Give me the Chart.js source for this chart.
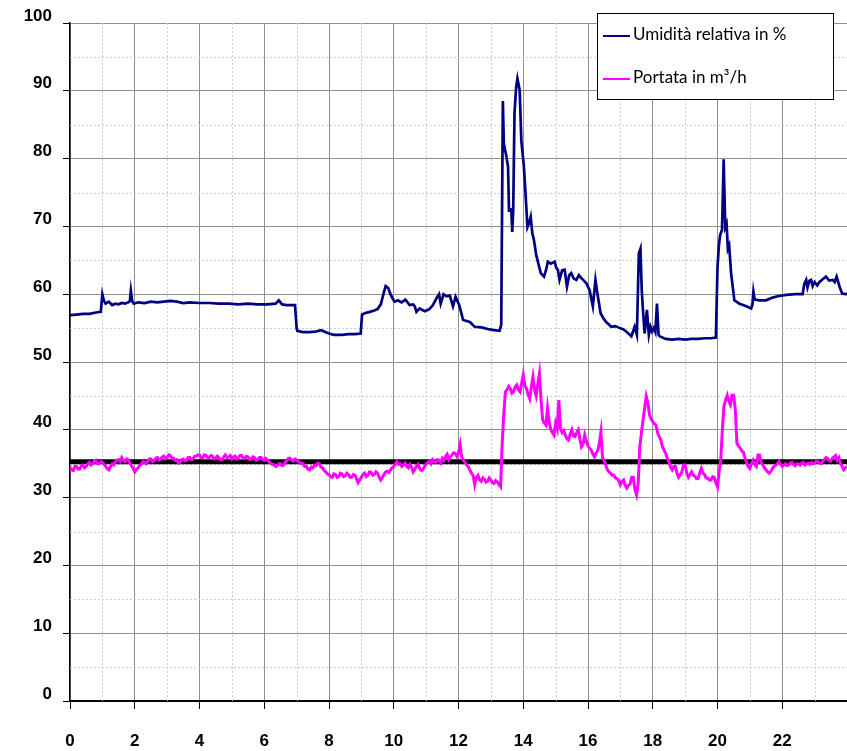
<!DOCTYPE html>
<html>
<head>
<meta charset="utf-8">
<script src="https://cdn.jsdelivr.net/npm/chart.js@4/dist/chart.umd.min.js"></script>
<style>
  html, body { margin: 0; padding: 0; background: #ffffff; }
  #wrap { width: 847px; height: 751px; position: relative; }
</style>
</head>
<body>
<div id="wrap"><canvas id="c" width="847" height="751"></canvas></div>
<script>
// Umidità relativa (%) — time in hours, value
const hoursUmidita = [
  0.0, 0.2, 0.4, 0.6, 0.8, 0.95, 1.0, 1.05, 1.1, 1.2, 1.3, 1.4, 1.5, 1.6, 1.7, 1.8, 1.85, 1.88, 1.92, 1.97,
  2.1, 2.3, 2.5, 2.7, 2.9, 3.1, 3.3, 3.5, 3.7, 4.0, 4.3, 4.6, 4.9, 5.2, 5.5, 5.8, 6.1, 6.35, 6.45, 6.55,
  6.7, 6.95, 7.0, 7.02, 7.2, 7.4, 7.6, 7.75, 7.85, 8.0, 8.15, 8.4, 8.6, 8.8, 8.98, 9.02, 9.1, 9.26, 9.4, 9.5,
  9.6, 9.68, 9.75, 9.83, 9.9, 9.96, 10.03, 10.13, 10.24, 10.36, 10.49, 10.6, 10.65, 10.7, 10.8, 10.96, 11.1, 11.21, 11.32, 11.4,
  11.45, 11.54, 11.63, 11.73, 11.83, 11.91, 12.02, 12.1, 12.14, 12.35, 12.5, 12.71, 12.96, 13.1, 13.27, 13.32, 13.37, 13.4, 13.48, 13.53,
  13.56, 13.63, 13.66, 13.69, 13.73, 13.78, 13.82, 13.89, 13.94, 14.02, 14.07, 14.13, 14.18, 14.23, 14.28, 14.33, 14.4, 14.54, 14.64, 14.7,
  14.76, 14.85, 14.97, 15.02, 15.07, 15.12, 15.2, 15.28, 15.35, 15.42, 15.48, 15.56, 15.64, 15.72, 15.79, 15.87, 15.95, 16.05, 16.15, 16.23,
  16.29, 16.39, 16.47, 16.56, 16.72, 16.85, 16.98, 17.1, 17.18, 17.34, 17.44, 17.51, 17.57, 17.62, 17.66, 17.7, 17.75, 17.82, 17.88, 17.93,
  17.98, 18.03, 18.08, 18.13, 18.18, 18.21, 18.4, 18.6, 18.8, 19.0, 19.2, 19.4, 19.6, 19.8, 19.95, 20.0, 20.04, 20.08, 20.14, 20.19,
  20.24, 20.28, 20.32, 20.36, 20.42, 20.52, 20.68, 20.85, 21.04, 21.08, 21.11, 21.15, 21.3, 21.5, 21.7, 21.86, 22.12, 22.4, 22.63, 22.68,
  22.74, 22.78, 22.84, 22.89, 22.94, 23.0, 23.08, 23.15, 23.25, 23.35, 23.45, 23.56, 23.62, 23.68, 23.77, 23.85, 23.97, 24.0
];
const umidita = [
  56.9, 57.0, 57.1, 57.1, 57.3, 57.4, 60.0, 59.0, 58.6, 58.9, 58.4, 58.6, 58.5, 58.7, 58.6, 58.8, 59.0, 60.5, 59.0, 58.6,
  58.8, 58.7, 58.9, 58.8, 58.9, 59.0, 58.9, 58.7, 58.8, 58.7, 58.7, 58.6, 58.6, 58.5, 58.6, 58.5, 58.5, 58.6, 59.1, 58.5,
  58.4, 58.4, 55.0, 54.6, 54.4, 54.4, 54.5, 54.7, 54.5, 54.2, 54.0, 54.0, 54.1, 54.1, 54.2, 57.0, 57.2, 57.4, 57.6, 57.8,
  58.5, 60.0, 61.2, 60.9, 60.0, 59.4, 58.9, 59.1, 58.8, 59.2, 58.4, 58.5, 58.2, 57.4, 57.9, 57.5, 57.8, 58.4, 59.4, 60.0,
  58.6, 60.0, 59.7, 59.8, 58.2, 59.6, 58.4, 57.0, 56.2, 55.9, 55.2, 55.1, 54.8, 54.7, 54.6, 55.5, 88.5, 82.2, 80.3, 78.8,
  72.4, 72.5, 69.2, 72.4, 86.7, 90.5, 91.8, 90.1, 82.7, 78.8, 74.9, 69.9, 70.5, 71.4, 69.0, 68.0, 65.8, 63.1, 62.6, 63.5,
  64.8, 64.5, 64.8, 63.9, 63.6, 62.1, 63.5, 63.6, 61.1, 62.8, 63.1, 62.3, 62.1, 62.8, 62.4, 62.0, 61.6, 60.6, 58.2, 62.1,
  60.1, 57.2, 56.5, 55.9, 55.2, 55.3, 55.0, 54.8, 54.5, 53.8, 55.2, 54.0, 66.0, 66.7, 60.6, 57.5, 54.2, 57.7, 54.0, 55.2,
  54.5, 55.0, 54.4, 58.6, 54.0, 53.8, 53.4, 53.3, 53.4, 53.3, 53.4, 53.4, 53.5, 53.5, 53.6, 64.0, 67.0, 68.7, 69.5, 79.9,
  69.9, 70.4, 66.7, 67.2, 63.1, 59.1, 58.6, 58.3, 57.9, 58.5, 60.4, 59.2, 59.1, 59.1, 59.5, 59.7, 59.9, 60.0, 60.0, 61.5,
  62.1, 61.0, 62.0, 62.1, 61.2, 61.8, 61.3, 61.8, 62.2, 62.6, 62.0, 62.1, 61.8, 62.6, 61.1, 60.1, 60.0, 60.0
];

// Portata (m³/h) — one reading every 0.05 h (20 per hour), from 0 to 24 h
const portata = [
  34.5, 34.1, 34.0, 34.6, 34.6, 34.2, 34.2, 34.7, 34.8, 34.4, 34.6, 35.0, 35.2, 34.8, 35.0, 35.4, 35.5, 35.0, 35.0, 35.3,
  35.2, 34.9, 34.6, 34.3, 34.1, 34.6, 35.0, 34.8, 35.3, 35.5, 35.6, 35.3, 35.9, 35.5, 35.3, 35.7, 35.6, 35.1, 34.7, 34.3,
  33.8, 34.2, 34.3, 34.8, 34.9, 35.3, 35.2, 35.0, 35.4, 35.7, 35.7, 35.3, 35.4, 35.8, 35.9, 35.5, 35.7, 36.0, 36.1, 35.7,
  35.9, 36.3, 36.2, 35.8, 35.8, 35.5, 35.6, 35.1, 35.2, 35.6, 35.7, 35.4, 35.5, 35.9, 35.9, 35.6, 35.7, 36.1, 36.1, 36.3,
  36.3, 35.9, 35.9, 36.3, 36.2, 35.8, 35.9, 36.2, 36.1, 35.7, 35.8, 36.1, 35.9, 35.6, 35.6, 36.0, 36.3, 35.9, 36.0, 36.2,
  35.7, 36.0, 36.1, 35.7, 35.9, 36.2, 36.2, 35.8, 35.8, 36.1, 36.0, 35.6, 35.7, 36.0, 35.9, 35.5, 35.6, 35.9, 35.9, 35.6,
  35.5, 35.8, 35.6, 35.2, 35.1, 34.9, 34.9, 34.6, 34.7, 35.0, 35.0, 34.7, 34.8, 35.2, 35.5, 35.8, 35.8, 35.5, 35.4, 35.7,
  35.6, 35.3, 35.2, 35.0, 35.0, 34.6, 34.6, 34.2, 34.1, 34.5, 34.4, 34.8, 34.7, 35.1, 35.0, 34.5, 34.4, 34.0, 33.8, 33.5,
  33.4, 33.1, 33.0, 33.5, 33.4, 33.0, 33.1, 33.6, 33.5, 33.1, 33.2, 33.6, 33.4, 33.0, 33.0, 33.4, 33.3, 32.8, 32.2, 32.6,
  33.0, 33.4, 33.6, 33.1, 33.3, 33.8, 33.7, 33.3, 33.4, 33.8, 33.6, 33.0, 32.6, 33.0, 33.4, 33.8, 33.9, 33.7, 34.1, 34.4,
  34.6, 35.0, 35.3, 34.9, 35.0, 34.6, 34.8, 35.1, 34.6, 34.4, 34.9, 34.5, 33.8, 34.2, 34.6, 34.9, 34.3, 34.0, 34.1, 34.6,
  35.0, 35.2, 35.4, 35.0, 35.6, 35.3, 35.2, 35.6, 35.5, 35.1, 35.8, 35.5, 36.1, 36.4, 35.6, 36.0, 36.3, 36.6, 36.5, 36.1,
  36.6, 37.8, 35.9, 35.5, 35.2, 34.8, 34.6, 34.1, 33.6, 33.3, 31.9, 33.0, 33.3, 32.6, 32.4, 32.9, 32.7, 32.3, 32.4, 32.9,
  32.6, 32.2, 32.1, 32.5, 32.3, 31.9, 31.6, 38.0, 42.5, 45.6, 45.9, 46.4, 46.1, 45.4, 45.6, 46.3, 46.6, 45.9, 45.6, 46.8,
  48.1, 46.5, 46.1, 45.2, 44.6, 46.3, 47.8, 45.9, 45.0, 46.8, 48.3, 44.4, 41.5, 41.0, 40.7, 43.2, 41.2, 40.0, 39.6, 39.2,
  41.0, 40.2, 44.4, 40.2, 39.6, 39.9, 39.2, 38.7, 38.5, 39.4, 40.0, 39.1, 39.0, 39.6, 40.0, 38.6, 37.5, 37.9, 39.2, 38.3,
  37.6, 37.3, 37.0, 36.4, 36.0, 36.6, 36.9, 38.0, 39.7, 35.8, 35.5, 34.8, 34.1, 33.8, 33.6, 33.3, 33.3, 32.9, 32.8, 32.5,
  31.9, 32.4, 32.6, 31.8, 31.4, 31.8, 32.0, 33.0, 33.0, 31.2, 30.4, 32.1, 37.5, 39.5, 41.4, 43.2, 44.9, 43.9, 42.2, 41.6,
  41.2, 40.9, 40.7, 39.6, 39.0, 38.5, 37.5, 37.0, 36.5, 35.8, 35.3, 34.5, 34.1, 34.6, 34.6, 33.6, 33.0, 33.4, 33.8, 34.8,
  34.8, 33.6, 33.0, 33.4, 33.8, 33.3, 33.2, 32.8, 32.8, 33.6, 34.3, 33.6, 33.4, 32.9, 32.9, 32.6, 32.6, 33.1, 33.0, 32.2,
  31.6, 33.8, 35.5, 40.0, 43.5, 44.4, 45.1, 44.2, 43.7, 45.1, 45.1, 43.0, 38.0, 37.6, 37.3, 36.9, 36.7, 35.9, 35.1, 34.6,
  34.3, 35.0, 35.5, 34.9, 34.6, 36.3, 36.3, 35.2, 34.8, 34.4, 34.1, 33.8, 33.6, 33.9, 34.3, 34.6, 34.8, 35.0, 35.3, 34.9,
  34.6, 34.8, 35.0, 34.7, 34.8, 35.1, 35.2, 34.9, 34.7, 35.0, 35.0, 34.8, 35.1, 35.2, 34.8, 35.0, 35.1, 34.9, 35.2, 35.0,
  35.1, 35.4, 35.3, 35.1, 35.0, 35.4, 35.6, 35.9, 35.8, 35.4, 35.4, 35.8, 36.0, 36.2, 35.5, 35.9, 35.1, 34.6, 34.1, 34.4,
  34.6
];
const hoursPortata = portata.map((_, i) => i / 20);

// Reference level for the flow rate
const hoursSoglia = [0, 24];
const soglia = [35.3, 35.3];

const seriesNames = ['Umidità relativa in %', 'Portata in m³/h'];
const xTickValues = [0, 2, 4, 6, 8, 10, 12, 14, 16, 18, 20, 22];
const yTickValues = [0, 10, 20, 30, 40, 50, 60, 70, 80, 90, 100];

const BLUE = '#000080';
const PINK = '#ff00ff';

const toPoints = (xs, ys) => xs.map((x, i) => ({ x: x, y: ys[i] }));

// Dotted minor grid (every hour, every 5 %) under the data
const minorGrid = {
  id: 'minorGrid',
  beforeDatasetsDraw(chart) {
    const { ctx, chartArea: a, scales: { x, y } } = chart;
    ctx.save();
    ctx.strokeStyle = '#cfcfcf';
    ctx.lineWidth = 1;
    ctx.setLineDash([2, 2]);
    ctx.beginPath();
    for (let h = 1; h < 24; h += 2) {
      const px = Math.round(x.getPixelForValue(h)) + 0.5;
      ctx.moveTo(px, a.top); ctx.lineTo(px, a.bottom);
    }
    for (let v = 5; v < 100; v += 10) {
      const py = Math.round(y.getPixelForValue(v)) + 0.5;
      ctx.moveTo(a.left, py); ctx.lineTo(a.right, py);
    }
    ctx.stroke();
    ctx.restore();
  }
};

// Boxed legend in the upper right corner
const boxLegend = {
  id: 'boxLegend',
  afterDraw(chart) {
    const ctx = chart.ctx;
    const bx = 597.5, by = 13.5, bw = 236, bh = 86;
    ctx.save();
    ctx.fillStyle = '#ffffff';
    ctx.fillRect(bx, by, bw, bh);
    ctx.strokeStyle = '#000000';
    ctx.lineWidth = 1;
    ctx.strokeRect(bx, by, bw, bh);
    const rows = [
      { text: seriesNames[0], color: BLUE, y: 35 },
      { text: seriesNames[1], color: PINK, y: 78 }
    ];
    ctx.font = '17px Lato, "Open Sans", sans-serif';
    ctx.textBaseline = 'alphabetic';
    ctx.textAlign = 'left';
    rows.forEach(r => {
      ctx.strokeStyle = r.color;
      ctx.lineWidth = 2;
      ctx.beginPath();
      ctx.moveTo(603, r.y + 1);
      ctx.lineTo(630, r.y + 1);
      ctx.stroke();
      ctx.fillStyle = '#000000';
      ctx.fillText(r.text, 633, r.y + 5);
    });
    ctx.restore();
  }
};

const tickFont = { family: 'Arial, "Liberation Sans", sans-serif', size: 17, weight: 'bold' };

new Chart(document.getElementById('c'), {
  type: 'line',
  data: {
    datasets: [
      {
        label: seriesNames[0],
        data: toPoints(hoursUmidita, umidita),
        borderColor: BLUE,
        borderWidth: 2.7,
        pointRadius: 0,
        tension: 0,
        order: 1
      },
      {
        label: seriesNames[1],
        data: toPoints(hoursPortata, portata),
        borderColor: PINK,
        borderWidth: 3,
        pointRadius: 0,
        tension: 0,
        order: 2
      },
      {
        label: 'soglia',
        data: toPoints(hoursSoglia, soglia),
        borderColor: '#000000',
        borderWidth: 5,
        pointRadius: 0,
        order: 3
      }
    ]
  },
  options: {
    responsive: false,
    animation: false,
    events: [],
    layout: { padding: { top: 23, right: 0, bottom: 0, left: 0 } },
    plugins: { legend: { display: false }, tooltip: { enabled: false } },
    scales: {
      x: {
        type: 'linear',
        min: 0,
        max: 24,
        afterBuildTicks: s => { s.ticks = xTickValues.concat([24]).map(v => ({ value: v })); },
        afterFit: s => { s.height = 50; s.paddingRight = 0; s.paddingLeft = 0; },
        ticks: {
          font: tickFont,
          color: '#000000',
          padding: 22,
          maxRotation: 0,
          autoSkip: false,
          callback: v => (xTickValues.includes(v) ? String(v) : '')
        },
        grid: { color: '#8f8f8f', lineWidth: 1, tickLength: 8, tickColor: '#000000', drawTicks: true },
        border: { color: '#000000', width: 2 }
      },
      y: {
        type: 'linear',
        min: 0,
        max: 100,
        afterBuildTicks: s => { s.ticks = yTickValues.map(v => ({ value: v })); },
        afterFit: s => { s.width = 70; s.paddingTop = 0; s.paddingBottom = 0; },
        ticks: {
          font: tickFont,
          color: '#000000',
          padding: 11,
          labelOffset: -7,
          autoSkip: false
        },
        grid: { color: '#8f8f8f', lineWidth: 1, tickLength: 7, tickColor: '#000000', drawTicks: true },
        border: { color: '#000000', width: 1.5 }
      }
    }
  },
  plugins: [minorGrid, boxLegend]
});
</script>
</body>
</html>
